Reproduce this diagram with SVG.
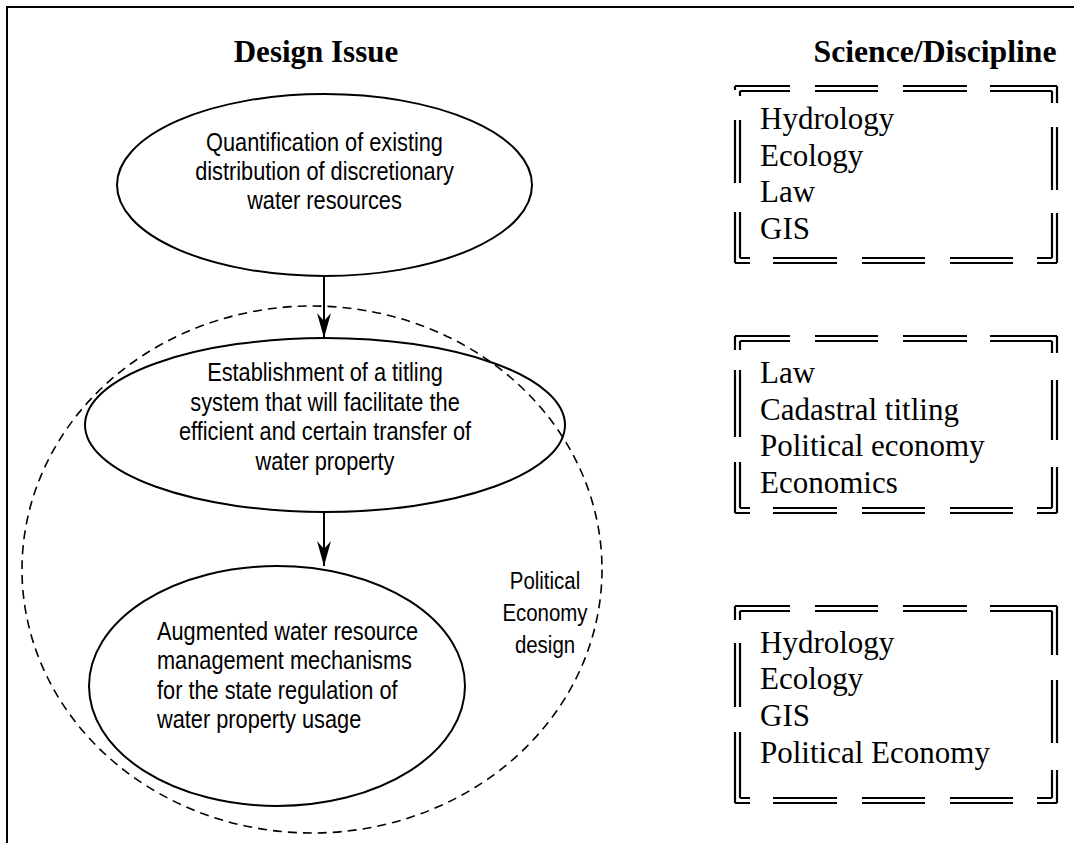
<svg xmlns="http://www.w3.org/2000/svg" width="1074" height="843" viewBox="0 0 1074 843">
  <style>
    .frame { fill: none; stroke: #000; stroke-width: 2; }
    .node { fill: none; stroke: #000; stroke-width: 2; }
    .zone { fill: none; stroke: #000; stroke-width: 1.6; stroke-dasharray: 9 6; }
    .edge { fill: none; stroke: #000; stroke-width: 2; marker-end: url(#stealth); }
    .dbl { fill: none; stroke: #000; stroke-width: 2.2; }
    .head { font-family: "Liberation Serif", "Times New Roman", serif; font-weight: bold; font-size: 31px; fill: #000; text-anchor: middle; }
    .list { font-family: "Liberation Serif", "Times New Roman", serif; font-size: 31px; fill: #000; }
    .lbl { font-family: "Liberation Sans", Arial, sans-serif; font-size: 25px; fill: #000; }
    .mid { text-anchor: middle; }
  </style>
  <defs>
    <marker id="stealth" markerUnits="userSpaceOnUse" markerWidth="26" markerHeight="16" viewBox="-26 -8 26 16" refX="0" refY="0" orient="auto">
      <path d="M0,0 L-25,-7 L-17,0 L-25,7 Z" fill="#000"/>
    </marker>
  </defs>

  <rect width="1074" height="843" fill="#fff"/>
  <path class="frame" d="M7 843 V7 H1074"/>

  <!-- column headings -->
  <text class="head" x="316" y="62">Design Issue</text>
  <text class="head" x="935" y="62" style="font-size:31.7px">Science/Discipline</text>

  <!-- political economy zone -->
  <g id="zone">
    <ellipse class="zone" cx="312" cy="569.5" rx="290" ry="263.5"/>
    <g transform="translate(545 0) scale(0.87 1)" class="lbl mid" style="font-size:23.5px">
      <text x="0" y="589">Political</text>
      <text x="0" y="621">Economy</text>
      <text x="0" y="653">design</text>
    </g>
  </g>

  <!-- design issues -->
  <g id="quantification">
    <ellipse class="node" cx="324.5" cy="185" rx="207.5" ry="91"/>
    <g transform="translate(324.5 0) scale(0.87 1)" class="lbl mid">
      <text x="0" y="151">Quantification of existing</text>
      <text x="0" y="180">distribution of discretionary</text>
      <text x="0" y="209">water resources</text>
    </g>
  </g>

  <g id="titling">
    <ellipse class="node" cx="325" cy="425" rx="240" ry="87"/>
    <g transform="translate(325 0) scale(0.87 1)" class="lbl mid">
      <text x="0" y="381">Establishment of a titling</text>
      <text x="0" y="411">system that will facilitate the</text>
      <text x="0" y="440">efficient and certain transfer of</text>
      <text x="0" y="470">water property</text>
    </g>
  </g>

  <g id="management">
    <ellipse class="node" cx="277" cy="686" rx="188" ry="120"/>
    <g transform="translate(157 0) scale(0.87 1)" class="lbl">
      <text x="0" y="640">Augmented water resource</text>
      <text x="0" y="669">management mechanisms</text>
      <text x="0" y="699">for the state regulation of</text>
      <text x="0" y="728">water property usage</text>
    </g>
  </g>

  <!-- connectors -->
  <g id="connectors">
    <path class="edge" d="M324 276 V338"/>
    <path class="edge" d="M324 512 V566"/>
  </g>

  <!-- discipline boxes -->
  <g id="disciplines-1">
    <path class="dbl" d="M735 86 H790 M815 86 H878 M903 86 H967 M990 86 H1057
      M740 91 H790 M815 91 H878 M903 91 H967 M990 91 H1052
      M735 86 V90 M735 120 V183 M735 212 V263
      M740 91 V96 M740 120 V183 M740 212 V258
      M1057 86 V103 M1057 127 V190 M1057 213 V263
      M1052 91 V103 M1052 127 V190 M1052 213 V258
      M735 263 H750 M773 263 H837 M862 263 H925 M950 263 H1013 M1037 263 H1057
      M740 258 H750 M773 258 H837 M862 258 H925 M950 258 H1013 M1037 258 H1052"/>
    <g class="list">
      <text x="760" y="129">Hydrology</text>
      <text x="760" y="165.5">Ecology</text>
      <text x="760" y="202">Law</text>
      <text x="760" y="238.5">GIS</text>
    </g>
  </g>

  <g id="disciplines-2">
    <path class="dbl" d="M735 336 H790 M815 336 H878 M903 336 H967 M990 336 H1057
      M740 341 H790 M815 341 H878 M903 341 H967 M990 341 H1052
      M735 336 V350 M735 370 V437 M735 462 V513
      M740 341 V350 M740 370 V437 M740 462 V508
      M1057 336 V353 M1057 380 V440 M1057 467 V513
      M1052 341 V353 M1052 380 V440 M1052 467 V508
      M735 513 H750 M773 513 H837 M862 513 H925 M950 513 H1013 M1037 513 H1057
      M740 508 H750 M773 508 H837 M862 508 H925 M950 508 H1013 M1037 508 H1052"/>
    <g class="list">
      <text x="760" y="382.7">Law</text>
      <text x="760" y="419.5">Cadastral titling</text>
      <text x="760" y="456.3">Political economy</text>
      <text x="760" y="493">Economics</text>
    </g>
  </g>

  <g id="disciplines-3">
    <path class="dbl" d="M735 606 H790 M815 606 H878 M903 606 H967 M990 606 H1057
      M740 611 H790 M815 611 H878 M903 611 H967 M990 611 H1052
      M735 606 V620 M735 643 V707 M735 732 V803
      M740 611 V620 M740 643 V707 M740 732 V798
      M1057 606 V655 M1057 680 V743 M1057 770 V803
      M1052 611 V655 M1052 680 V743 M1052 770 V798
      M735 803 H750 M773 803 H837 M862 803 H925 M950 803 H1013 M1037 803 H1057
      M740 798 H750 M773 798 H837 M862 798 H925 M950 798 H1013 M1037 798 H1052"/>
    <g class="list">
      <text x="760" y="652.7">Hydrology</text>
      <text x="760" y="689.4">Ecology</text>
      <text x="760" y="726">GIS</text>
      <text x="760" y="762.7">Political Economy</text>
    </g>
  </g>
</svg>
